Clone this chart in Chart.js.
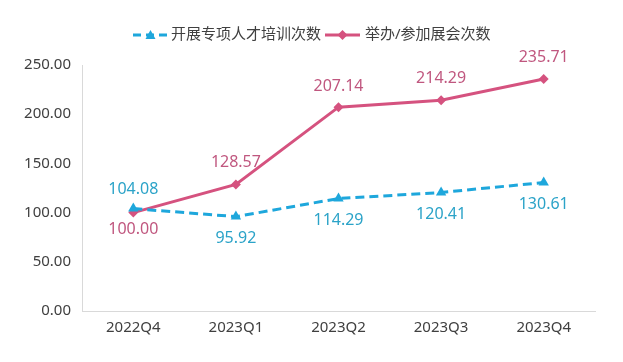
<!DOCTYPE html>
<html>
<head>
<meta charset="utf-8">
<script src="https://cdn.jsdelivr.net/npm/chart.js@4/dist/chart.umd.min.js"></script>
<style>
  html, body { margin: 0; padding: 0; background: #fff; }
  #wrap { width: 623px; height: 362px; }
</style>
</head>
<body>
<div id="wrap"><canvas id="chart" width="623" height="362"></canvas></div>
<script>
const categories = ["2022Q4", "2023Q1", "2023Q2", "2023Q3", "2023Q4"];
const trainingSeries = [104.08, 95.92, 114.29, 120.41, 130.61];
const exhibitionSeries = [100.00, 128.57, 207.14, 214.29, 235.71];
const yTicks = [0, 50, 100, 150, 200, 250];

const BLUE = "#1ea7dc";
const BLUE_TEXT = "#2ba3c8";
const PINK = "#d5527f";
const PINK_TEXT = "#c0577f";
const FONT = "'Noto Sans', 'Noto Sans CJK SC', sans-serif";

// label shift in px from the point (negative = above)
const labelShift = {
  0: [-19, 22, 22, 22, 22],
  1: [17, -22, -21, -22, -22]
};

const valueLabels = {
  id: "valueLabels",
  afterDatasetsDraw(chart) {
    const ctx = chart.ctx;
    ctx.save();
    ctx.font = "16px " + FONT;
    ctx.textAlign = "center";
    ctx.textBaseline = "middle";
    chart.data.datasets.forEach((ds, i) => {
      const meta = chart.getDatasetMeta(i);
      ctx.fillStyle = i === 0 ? BLUE_TEXT : PINK_TEXT;
      meta.data.forEach((pt, j) => {
        ctx.fillText(ds.data[j].toFixed(2), pt.x, pt.y + labelShift[i][j]);
      });
    });
    ctx.restore();
  }
};

/* legend drawn by hand so each entry shows line + marker */
const customLegend = {
  id: "customLegend",
  afterDraw(chart) {
    const ctx = chart.ctx;
    const y = 35;
    ctx.save();
    ctx.font = "15px " + FONT;
    ctx.textBaseline = "middle";
    ctx.textAlign = "left";

    // training entry
    ctx.strokeStyle = BLUE;
    ctx.lineWidth = 3;
    ctx.setLineDash([8, 5]);
    ctx.beginPath();
    ctx.moveTo(133, y);
    ctx.lineTo(168, y);
    ctx.stroke();
    ctx.setLineDash([]);
    ctx.fillStyle = BLUE;
    ctx.beginPath();
    ctx.moveTo(150.5, y - 5);
    ctx.lineTo(155.5, y + 4);
    ctx.lineTo(145.5, y + 4);
    ctx.closePath();
    ctx.fill();
    ctx.fillStyle = "#404040";
    ctx.fillText(chart.data.datasets[0].label, 171, y);

    // exhibition entry
    ctx.strokeStyle = PINK;
    ctx.beginPath();
    ctx.moveTo(325, y);
    ctx.lineTo(360, y);
    ctx.stroke();
    ctx.fillStyle = PINK;
    ctx.beginPath();
    ctx.moveTo(342.5, y - 5);
    ctx.lineTo(347.5, y);
    ctx.lineTo(342.5, y + 5);
    ctx.lineTo(337.5, y);
    ctx.closePath();
    ctx.fill();
    ctx.fillStyle = "#404040";
    ctx.fillText(chart.data.datasets[1].label, 365, y);
    ctx.restore();
  }
};

new Chart(document.getElementById("chart"), {
  type: "line",
  data: {
    labels: categories,
    datasets: [{
      label: "开展专项人才培训次数",
      data: trainingSeries,
      borderColor: BLUE,
      backgroundColor: BLUE,
      borderWidth: 3,
      borderDash: [9, 5],
      pointStyle: "triangle",
      pointRadius: 6,
      pointBorderWidth: 0,
      pointBackgroundColor: BLUE,
      tension: 0
    }, {
      label: "举办/参加展会次数",
      data: exhibitionSeries,
      borderColor: PINK,
      backgroundColor: PINK,
      borderWidth: 3,
      pointStyle: "rectRot",
      pointRadius: 5,
      pointBorderWidth: 0,
      pointBackgroundColor: PINK,
      tension: 0
    }]
  },
  options: {
    responsive: false,
    animation: false,
    layout: { padding: { top: 65, right: 28, left: 0, bottom: 0 } },
    plugins: {
      legend: { display: false },
      tooltip: { enabled: false }
    },
    scales: {
      x: {
        offset: true,
        grid: { display: false, drawTicks: false },
        border: { color: "#d9d9d9", width: 1 },
        ticks: { color: "#404040", font: { size: 15, family: FONT }, padding: 8 },
        afterFit(scale) { scale.height = 51; }
      },
      y: {
        min: 0,
        max: 250,
        afterBuildTicks(scale) { scale.ticks = yTicks.map(v => ({ value: v })); },
        grid: { display: false, drawTicks: false },
        border: { color: "#d9d9d9", width: 1 },
        ticks: {
          color: "#404040",
          font: { size: 15, family: FONT },
          padding: 11,
          callback: v => v.toFixed(2)
        },
        afterFit(scale) { scale.width = 82; }
      }
    }
  },
  plugins: [valueLabels, customLegend]
});
</script>
</body>
</html>
